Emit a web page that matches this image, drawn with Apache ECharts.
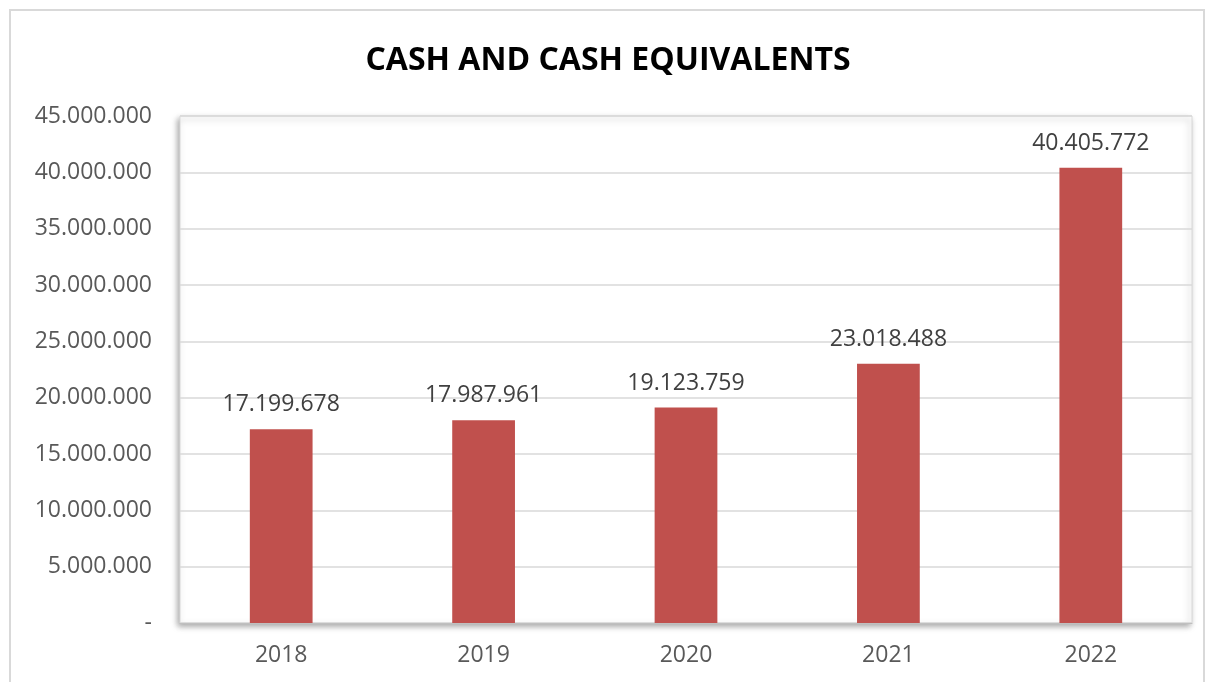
<!DOCTYPE html>
<html>
<head>
<meta charset="utf-8">
<script src="https://cdn.jsdelivr.net/npm/echarts@6/dist/echarts.min.js"></script>
<style>
  html, body { margin: 0; padding: 0; background: #fff; }
  #frame { position: absolute; left: 9px; top: 9px; width: 1196px; height: 690px; border: 2px solid #d9d9d9; box-sizing: border-box; }
  #chart { position: absolute; left: 0; top: 0; width: 1216px; height: 682px; }
</style>
</head>
<body>
<div id="frame"></div>
<div id="chart"></div>
<script>
// Data
const years = ['2018', '2019', '2020', '2021', '2022'];
const cashValues = [17199678, 17987961, 19123759, 23018488, 40405772];

// Format 17199678 -> 17.199.678
function fmt(v) {
    if (v === 0) return '-';
    return String(v).replace(/\B(?=(\d{3})+(?!\d))/g, '.');
}

const chart = echarts.init(document.getElementById('chart'));
chart.setOption({
    backgroundColor: 'transparent',
    title: {
        text: 'CASH AND CASH EQUIVALENTS',
        left: 'center',
        top: 40,
        textStyle: { fontFamily: 'Open Sans', fontSize: 32, fontWeight: 'bold', color: '#000' }
    },
    grid: {
        left: 180, right: 24, top: 116, bottom: 59,
        show: true,
        backgroundColor: '#fff',
        borderColor: '#d9d9d9',
        borderWidth: 1,
        shadowColor: 'rgba(0,0,0,0.35)',
        shadowBlur: 6,
        shadowOffsetX: -2,
        shadowOffsetY: 3
    },
    xAxis: {
        type: 'category',
        data: years,
        axisTick: { show: false },
        axisLine: { lineStyle: { color: '#bfbfbf' } },
        axisLabel: { fontFamily: 'Open Sans', fontSize: 23, color: '#595959', margin: 21 }
    },
    yAxis: {
        type: 'value',
        min: 0, max: 45000000, interval: 5000000,
        axisLine: { show: false },
        axisTick: { show: false },
        splitLine: { lineStyle: { color: '#d9d9d9', width: 1.5 } },
        axisLabel: {
            fontFamily: 'Open Sans', fontSize: 23, color: '#595959', margin: 28,
            formatter: fmt
        }
    },
    series: [{
        type: 'bar',
        data: cashValues,
        barWidth: '31%',
        itemStyle: { color: '#c0504d' },
        label: {
            show: true,
            position: 'top',
            distance: 13,
            fontFamily: 'Open Sans', fontSize: 23, color: '#404040',
            formatter: p => fmt(p.value)
        }
    }]
});
</script>
</body>
</html>
